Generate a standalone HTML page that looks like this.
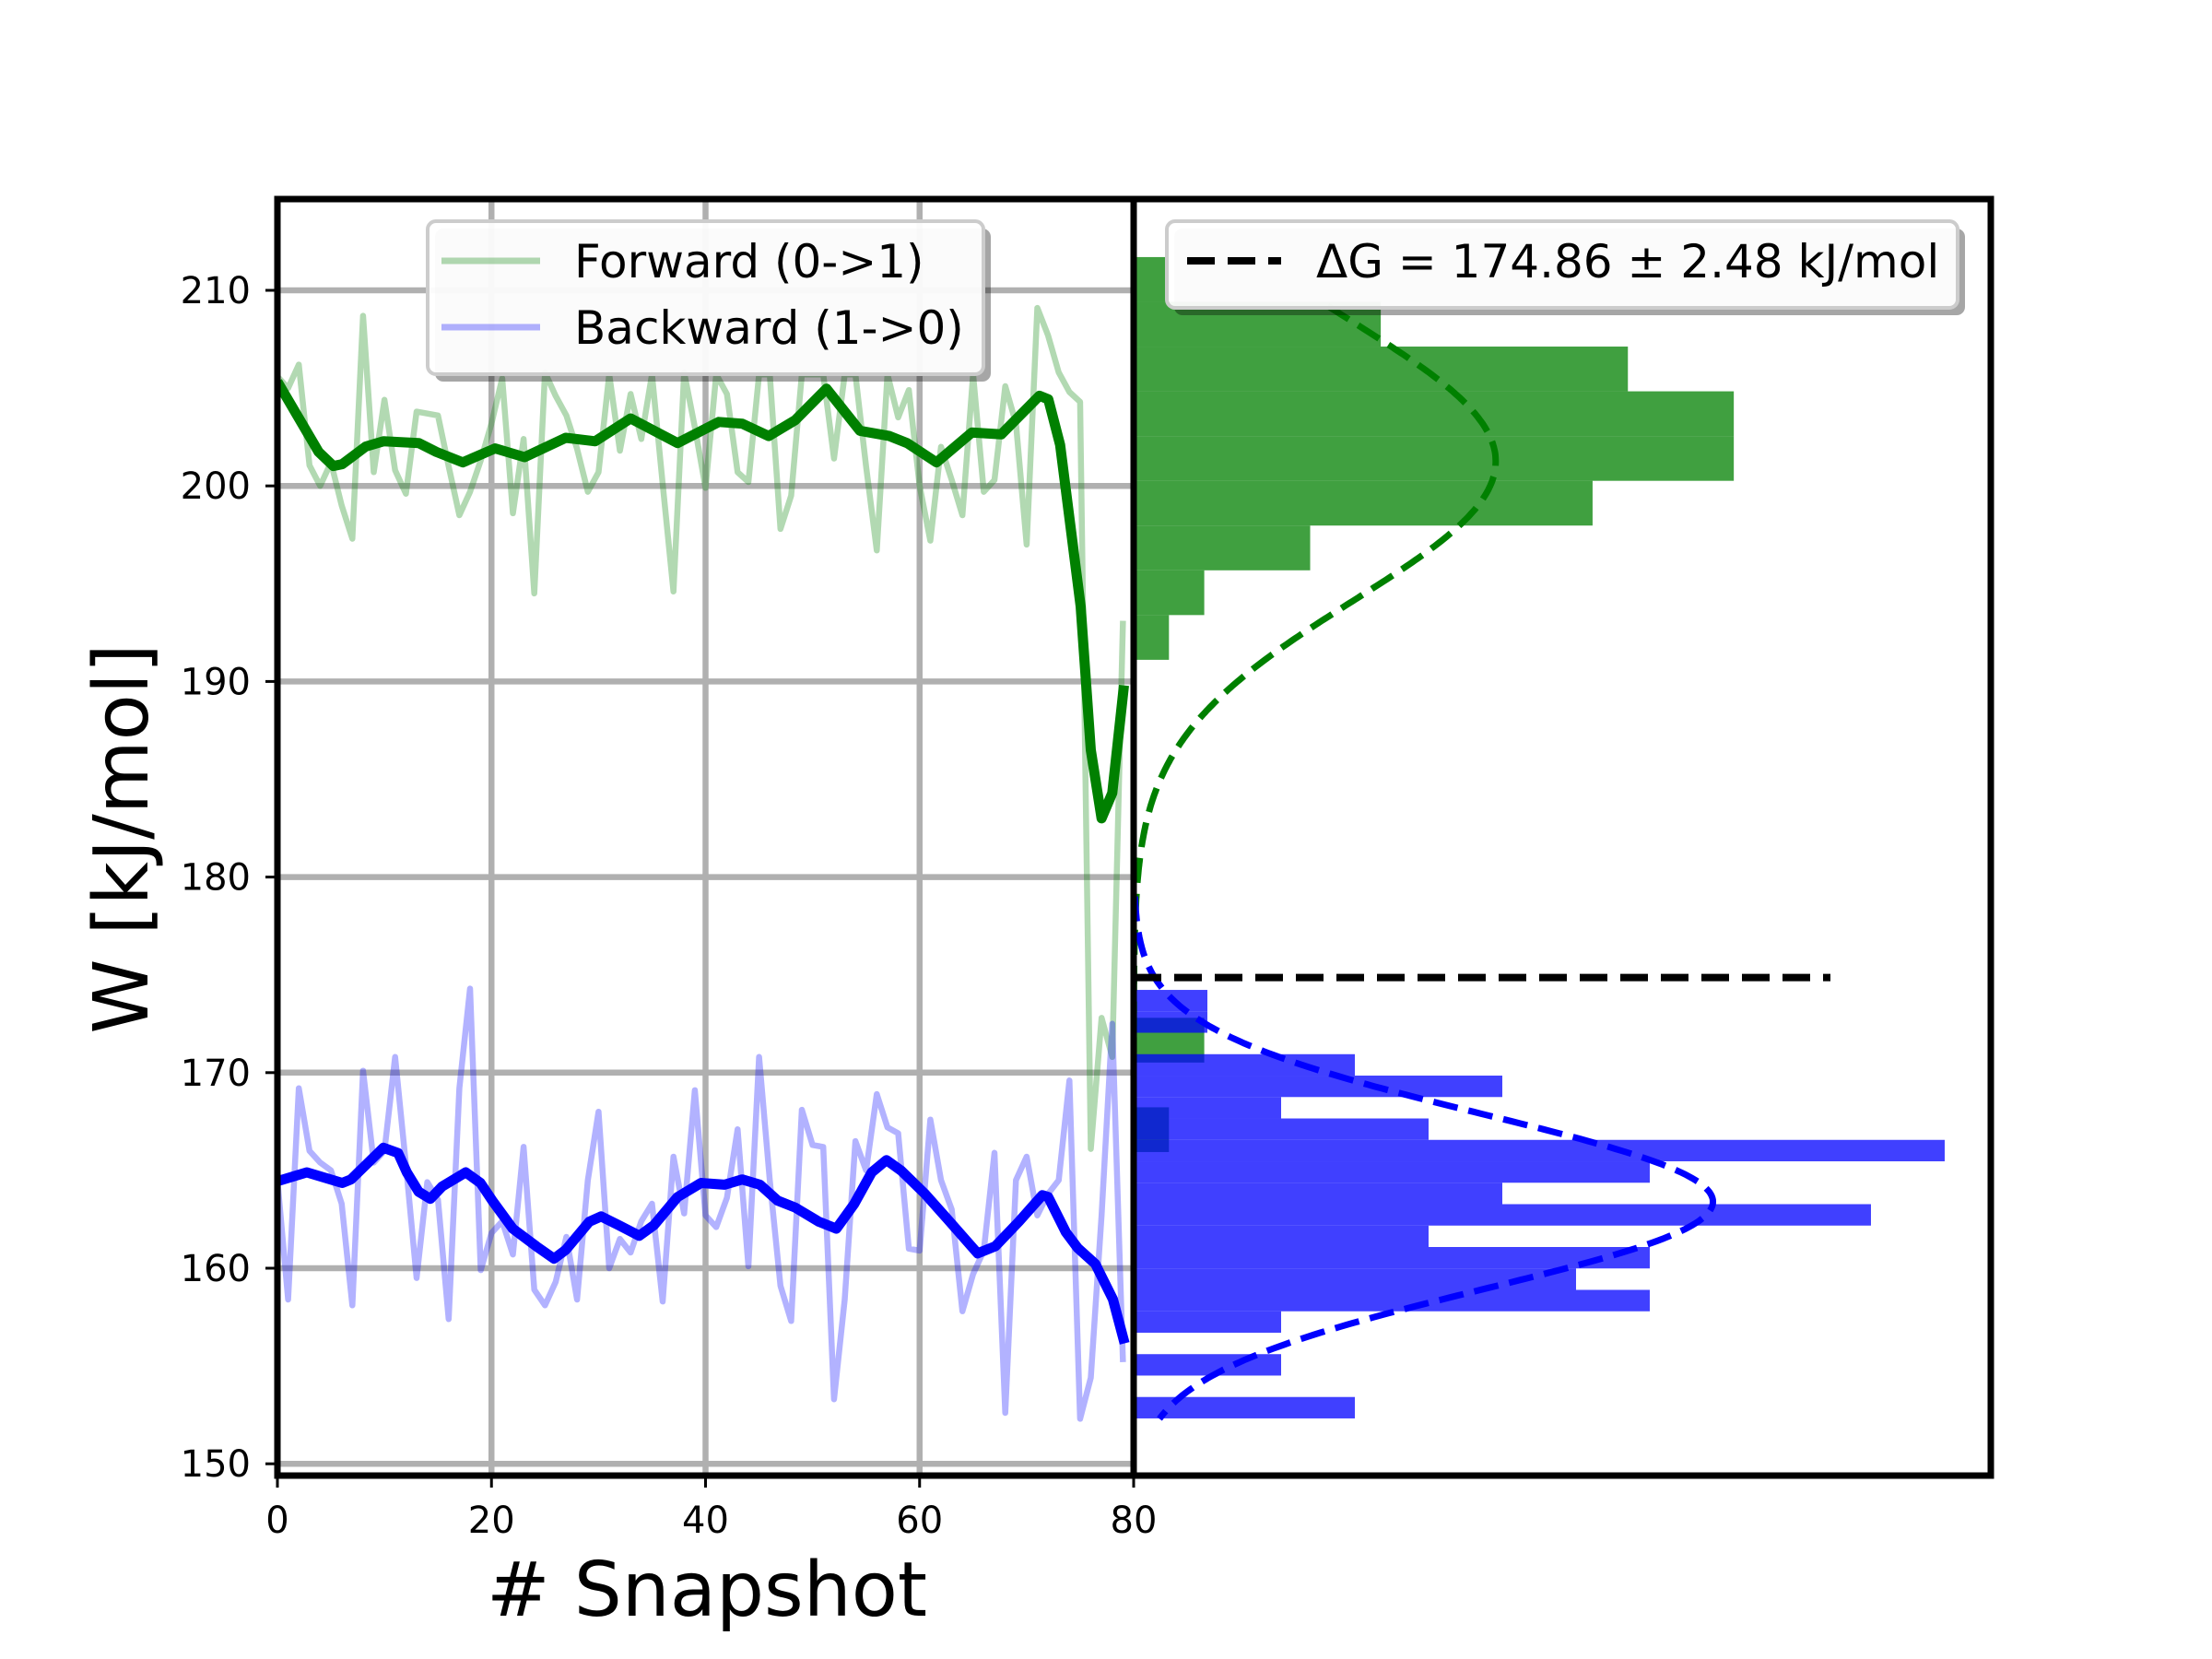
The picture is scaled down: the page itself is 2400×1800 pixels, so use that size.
<!DOCTYPE html>
<html><head><meta charset="utf-8"><title>Work distribution chart</title>
<style>
html,body{margin:0;padding:0;background:#fff;}
svg{display:block;font-family:"DejaVu Sans","Liberation Sans",sans-serif;}
</style></head>
<body>
<svg id="chart" xmlns="http://www.w3.org/2000/svg" width="2400" height="1800" viewBox="0 0 2400 1800">
<defs>
<clipPath id="clipL"><rect x="301" y="216" width="929" height="1385"/></clipPath>
<clipPath id="clipR"><rect x="1230" y="216" width="930" height="1385"/></clipPath>
</defs>
<g id="grid"></g>
<g id="series" clip-path="url(#clipL)"></g>
<g id="hist" clip-path="url(#clipR)"></g>
<g id="axes"></g>
<g id="legends"></g>
</svg>
<script>
// ---- data ----
const forwardRaw = [205.6,205.0,206.2,201.05,200.0,201.2,199.0,197.3,208.7,200.7,204.4,200.8,199.6,203.8,203.7,203.6,201.0,198.5,199.7,201.3,203.2,205.5,198.6,202.4,194.5,205.8,204.6,203.6,201.9,199.7,200.7,205.7,201.8,204.7,202.4,205.7,200.1,194.6,205.8,203.0,199.9,205.7,204.7,200.7,200.2,205.7,205.7,197.8,199.5,205.7,205.7,205.7,201.4,205.7,205.7,201.0,196.7,205.7,203.5,204.9,200.0,197.2,202.0,200.3,198.5,205.7,199.7,200.3,205.1,203.2,197.0,209.1,207.7,205.8,204.8,204.3,166.1,172.8,170.8,193.1];
const backwardRaw = [164.5,158.4,169.2,166.0,165.4,165.0,163.3,158.1,170.1,165.4,166.0,170.8,165.3,159.5,164.4,163.5,157.4,169.2,174.3,159.9,161.8,162.4,160.7,166.2,158.9,158.1,159.3,161.6,158.4,164.5,168.0,160.0,161.5,160.8,162.4,163.3,158.3,165.7,162.8,169.1,162.7,162.1,163.6,167.1,160.1,170.8,164.5,159.1,157.3,168.1,166.3,166.2,153.3,158.4,166.5,165.0,168.9,167.2,166.9,161.0,160.9,167.6,164.5,163.0,157.8,159.7,160.9,165.9,152.6,164.5,165.7,162.7,163.8,164.5,169.6,152.3,154.4,162.7,172.5,155.2];
const forwardSmoothIdx = [0,3.85,5.23,6.05,8.25,9.9,13.2,14.85,17.32,20.34,23.09,26.94,29.69,33.0,37.39,41.24,43.43,45.9,48.38,51.3,54.43,57.18,58.83,61.58,64.88,67.63,71.2,72.03,73.13,75.05,76.0,77.0,78.0,79.1];
const forwardSmoothVal = [205.33,201.74,201.02,201.11,202.01,202.28,202.19,201.74,201.2,201.92,201.47,202.46,202.28,203.45,202.19,203.27,203.18,202.55,203.36,204.97,202.82,202.55,202.19,201.2,202.73,202.64,204.61,204.43,202.1,193.84,186.5,183.0,184.3,189.8];
const backwardSmoothIdx = [0,2.75,6.05,6.87,9.9,11.27,12.09,13.19,14.29,15.39,17.59,18.97,20.07,21.99,24.19,25.84,26.94,29.14,30.24,31.89,33.81,35.18,37.38,39.58,41.78,43.43,45.08,46.73,48.38,50.58,52.23,53.88,55.53,56.9,58.27,60.47,62.67,65.42,67.07,69.27,71.47,72.02,73.67,74.77,76.42,78.06,79.16];
const backwardSmoothVal = [164.45,164.9,164.36,164.54,166.16,165.89,164.9,163.91,163.55,164.18,164.9,164.36,163.46,162.02,161.12,160.49,160.94,162.38,162.65,162.2,161.66,162.2,163.64,164.36,164.27,164.54,164.27,163.46,163.1,162.38,162.02,163.28,164.9,165.53,164.99,163.82,162.47,160.76,161.12,162.38,163.73,163.64,161.84,161.03,160.22,158.41,156.16];
// histograms (bins listed top to bottom)
const greenTop = 211.70, greenBinW = 2.288;
const greenCounts = [1,7,14,17,17,13,5,2,1,0,0,0,0,0,0,0,0,2,0,1];
const blueTop = 174.23, blueBinW = 1.0955;
const blueCounts = [1,1,0,3,5,2,4,11,7,5,10,4,7,6,7,2,0,2,0,3];
const nSamples = 80;
const greenMu = 201.25, greenSigma = 7.12;
const blueMu = 163.4, blueSigma = 4.45;
const deltaG = 174.86;
const yTicks = [150,160,170,180,190,200,210];
const xTicks = [0,20,40,60,80];

// ---- scales ----
const L=301, M=1230, R=2160, T=216, B=1601;
const xs = i => L + (i/80)*(M-L);
const ys = v => 315 + (210-v)*21.22;
const K = 7011; // px per density unit
const xh = d => M + d*K;
const NS='http://www.w3.org/2000/svg';
function mk(tag, attrs, parent){const e=document.createElementNS(NS,tag);for(const k in attrs)e.setAttribute(k,attrs[k]);parent.appendChild(e);return e;}
const grid=document.getElementById('grid'), series=document.getElementById('series'), hist=document.getElementById('hist'), axes=document.getElementById('axes'), legends=document.getElementById('legends');

// grid
yTicks.forEach(v=>{const g=mk('line',{x1:L,x2:M,y1:ys(v),y2:ys(v),stroke:'#b0b0b0','stroke-width':6.5},grid);

});
xTicks.forEach(v=>{const g=mk('line',{x1:xs(v),x2:xs(v),y1:T,y2:B,stroke:'#b0b0b0','stroke-width':6.5},grid);

});

// series
function poly(xsArr, ysArr, color, w, op, name){
  const pts = xsArr.map((x,k)=>xs(x).toFixed(1)+','+ys(ysArr[k]).toFixed(1)).join(' ');
  const p=mk('polyline',{points:pts,fill:'none',stroke:color,'stroke-width':w,'stroke-opacity':op,'stroke-linejoin':'round'},series);
  
  
}
const idx = forwardRaw.map((_,i)=>i);
poly(idx, forwardRaw, '#008000', 6.5, 0.3, 'forward-raw-line');
poly(idx, backwardRaw, '#0000ff', 6.5, 0.3, 'backward-raw-line');
poly(forwardSmoothIdx, forwardSmoothVal, '#008000', 11, 1, 'forward-smoothed-line');
poly(backwardSmoothIdx, backwardSmoothVal, '#0000ff', 11, 1, 'backward-smoothed-line');

// histograms
function bars(counts, top, bw, color, name){
  counts.forEach((c,k)=>{ if(!c) return;
    const v0 = top - k*bw, v1 = top-(k+1)*bw;
    const d = c/(nSamples*bw);
    const r=mk('rect',{x:M,y:ys(v0),width:xh(d)-M,height:ys(v1)-ys(v0),fill:color,'fill-opacity':0.75},hist);
    
    
  });
}
bars(greenCounts, greenTop, greenBinW, '#008000', 'forward-hist-bar');
bars(blueCounts, blueTop, blueBinW, '#0000ff', 'backward-hist-bar');
function gauss(mu, s, v0, v1, color, name){
  const pts=[]; for(let v=v0; v>=v1; v-=0.1){const d=Math.exp(-(v-mu)*(v-mu)/(2*s*s))/(s*Math.sqrt(2*Math.PI)); pts.push(xh(d).toFixed(1)+','+ys(v).toFixed(1));}
  const p=mk('polyline',{points:pts.join(' '),fill:'none',stroke:color,'stroke-width':7,'stroke-dasharray':'27 12'},hist);
  
  
}
gauss(greenMu, greenSigma, 209.2, 166.1, '#008000', 'forward-gaussian-fit');
gauss(blueMu, blueSigma, 179.0, 152.3, '#0000ff', 'backward-gaussian-fit');
const dl=mk('line',{x1:M,x2:1986,y1:ys(deltaG),y2:ys(deltaG),stroke:'#000','stroke-width':8,'stroke-dasharray':'30 14'},hist);



// axes frames
[[L,M],[M,R]].forEach(([a,b])=>{const f=mk('rect',{x:a,y:T,width:b-a,height:B-T,fill:'none',stroke:'#000','stroke-width':7},axes);

});
yTicks.forEach(v=>{
  const t=mk('line',{x1:L-13,x2:L,y1:ys(v),y2:ys(v),stroke:'#000','stroke-width':3},axes);
  
  
  const tx=mk('text',{x:L-29,y:ys(v)+14,'text-anchor':'end','font-size':40},axes); tx.textContent=v;
  
  
});
xTicks.forEach(v=>{
  const t=mk('line',{x1:xs(v),x2:xs(v),y1:B,y2:B+13,stroke:'#000','stroke-width':3},axes);
  
  
  const tx=mk('text',{x:xs(v),y:1663,'text-anchor':'middle','font-size':40},axes); tx.textContent=v;
  
  
});
const xl=mk('text',{x:767,y:1753,'text-anchor':'middle','font-size':82},axes); xl.textContent='# Snapshot';


const yl=mk('text',{x:0,y:0,'text-anchor':'middle','font-size':82,transform:'translate(160,910) rotate(-90)'},axes); yl.textContent='W [kJ/mol]';



// legends
function legendBox(x,y,w,h,name){
  const s=mk('rect',{x:x+8,y:y+8,width:w,height:h,rx:9,fill:'#000','fill-opacity':0.35},legends);
  
  
  const b=mk('rect',{x:x,y:y,width:w,height:h,rx:9,fill:'#fff','fill-opacity':0.95,stroke:'#cccccc','stroke-width':4},legends);
  
  
}
legendBox(464,240,603,166,'series-legend');
let e=mk('line',{x1:479,x2:586,y1:283,y2:283,stroke:'#008000','stroke-opacity':0.3,'stroke-width':7},legends);
 
e=mk('text',{x:623,y:301,'font-size':50},legends); e.textContent='Forward (0->1)';
 
e=mk('line',{x1:479,x2:586,y1:355,y2:355,stroke:'#0000ff','stroke-opacity':0.3,'stroke-width':7},legends);
 
e=mk('text',{x:623,y:373,'font-size':50},legends); e.textContent='Backward (1->0)';
 
legendBox(1266,240,858,94,'delta-g-legend');
e=mk('line',{x1:1288,x2:1390,y1:283,y2:283,stroke:'#000','stroke-width':8,'stroke-dasharray':'30 14'},legends);
 
e=mk('text',{x:1428,y:301,'font-size':50},legends); e.textContent='ΔG = 174.86 ± 2.48 kJ/mol';
 
</script>
</body></html>
